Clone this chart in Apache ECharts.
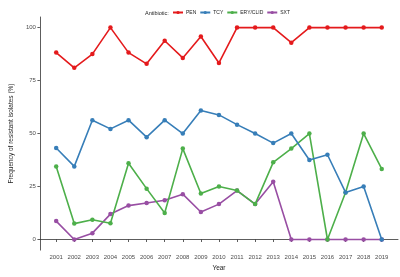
<!DOCTYPE html>
<html><head><meta charset="utf-8">
<script src="https://cdn.jsdelivr.net/npm/echarts@6/dist/echarts.min.js"></script>
<style>html,body{margin:0;padding:0;background:#fff}#c{width:400px;height:277px}</style>
</head><body><div id="c"></div>
<script>
const years = [2001,2002,2003,2004,2005,2006,2007,2008,2009,2010,2011,2012,2013,2014,2015,2016,2017,2018,2019];
const PEN = [88.2,81.0,87.5,100,88.2,82.9,93.8,85.7,95.8,83.3,100,100,100,92.9,100,100,100,100,100];
const TCY = [43.2,34.5,56.3,52.2,56.3,48.3,56.3,50.0,60.9,58.8,54.2,50.0,45.5,50.0,37.5,40.0,22.2,25.0,0];
const ERY = [34.5,7.5,9.3,7.7,36.0,24.0,12.5,42.9,21.7,25.0,23.1,16.7,36.4,42.9,50.0,0,22.2,50.0,33.3];
const SXT = [8.7,0,3.0,12.0,16.0,17.2,18.5,21.4,13.0,16.7,23.1,16.7,27.3,0,0,0,0,0,0];
const seriesNames = ['PEN','TCY','ERY/CLID','SXT'];
const seriesData = [PEN, TCY, ERY, SXT];
const colors = ['#E41A1C','#377EB8','#4DAF4A','#984EA3'];
const yTicks = [0,25,50,75,100];

const chart = echarts.init(document.getElementById('c'), null, {renderer:'canvas'});
const font = 'Liberation Sans, Arial, sans-serif';
chart.setOption({
  animation:false,
  textStyle:{fontFamily:font},
  graphic:[{type:'text', left:145, top:10, style:{text:'Antibiotic:', fontSize:5.5, fill:'#222', fontFamily:font}}],
  legend:{
    top:10, left:172, itemWidth:10, itemHeight:4, itemGap:3, padding:0,
    textStyle:{fontSize:5, color:'#222', padding:[0,0,0,-2]},
    data:seriesNames
  },
  grid:{left:21, right:2, top:17, bottom:16},
  xAxis:{
    type:'value', min:2000.1, max:2019.9,
    name:'Year', nameLocation:'middle', nameGap:11,
    nameTextStyle:{fontSize:6.5, color:'#222'},
    axisLine:{show:true, lineStyle:{color:'#333', width:0.8}},
    axisTick:{show:true, length:2.5, lineStyle:{color:'#333', width:0.8}, customValues:years},
    axisLabel:{fontSize:6, color:'#4d4d4d', margin:4, customValues:years, formatter:v=>String(v)},
    splitLine:{show:false}
  },
  yAxis:{
    type:'value', min:-5, max:105,
    name:'Frequency of resistant isolates (%)', nameLocation:'middle', nameGap:13,
    nameTextStyle:{fontSize:6.5, color:'#222'},
    axisLine:{show:true, lineStyle:{color:'#333', width:0.8}},
    axisTick:{show:true, length:2.5, lineStyle:{color:'#333', width:0.8}, customValues:yTicks},
    axisLabel:{fontSize:6, color:'#4d4d4d', margin:4, customValues:yTicks},
    splitLine:{show:false}
  },
  series: seriesNames.map((n,i)=>({
    name:n, type:'line',
    data: years.map((y,j)=>[y, seriesData[i][j]]),
    symbol:'circle', symbolSize:4.5,
    lineStyle:{width:1.6, color:colors[i]},
    itemStyle:{color:colors[i]},
    z: 10 - i
  }))
});
</script></body></html>
